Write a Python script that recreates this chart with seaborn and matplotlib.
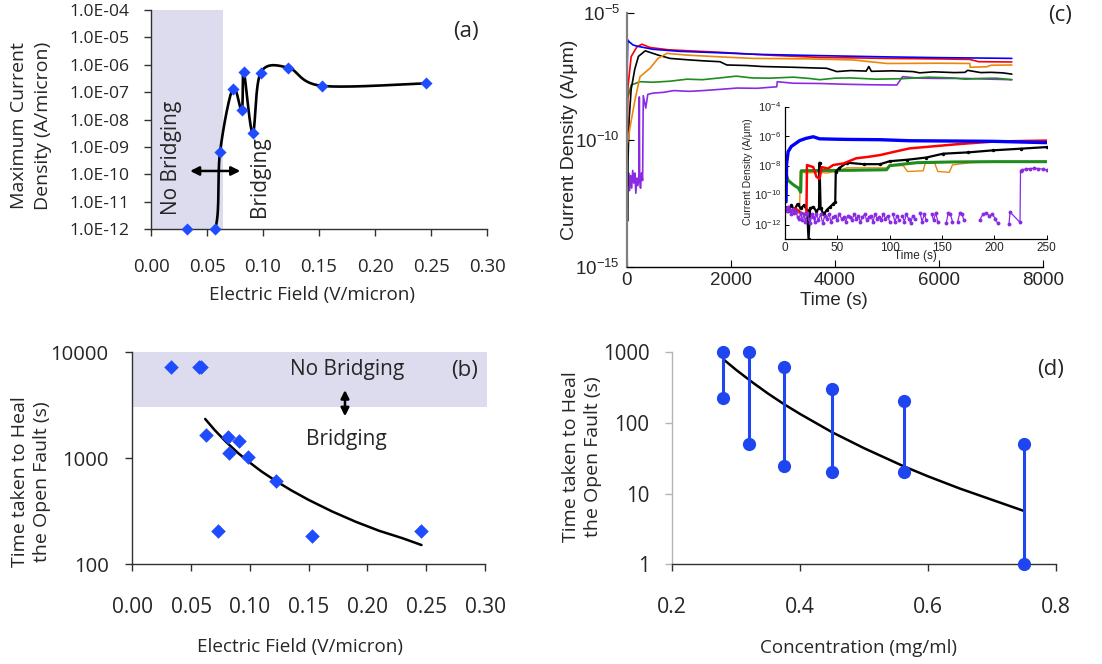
import numpy as np
import pandas as pd
import matplotlib
matplotlib.use("Agg")
import matplotlib.pyplot as plt
import seaborn as sns

# ── Style ─────────────────────────────────────────────────
sns.set_theme(style="ticks")
plt.rcParams["font.family"] = ["Open Sans", "DejaVu Sans"]
plt.rcParams["mathtext.fontset"] = "custom"
plt.rcParams["mathtext.rm"] = "Liberation Sans"
plt.rcParams["mathtext.it"] = "Liberation Sans:italic"
plt.rcParams["mathtext.bf"] = "Liberation Sans:bold"
HELV = ["Liberation Sans", "DejaVu Sans"]
MARK_BLUE = "#1f4cff"
BAND = "#dcdcee"
W, H = 1102, 664

# ── Data: (a) max current density vs field ───────────────
field_a = [0.032, 0.057, 0.0616, 0.073, 0.081, 0.0828, 0.0908, 0.098, 0.1226, 0.1524, 0.2458]
jmax_a = [1.0e-12, 1.0e-12, 6.3e-10, 1.35e-7, 2.2e-8, 5.5e-7, 3.2e-9, 5.2e-7, 7.8e-7, 1.7e-7, 2.1e-7]
a_xticks = [0.00, 0.05, 0.10, 0.15, 0.20, 0.25, 0.30]
a_xlabels = ["0.00", "0.05", "0.10", "0.15", "0.20", "0.25", "0.30"]
a_yexp = [-12, -11, -10, -9, -8, -7, -6, -5, -4]
a_ylabels = ["1.0E-12", "1.0E-11", "1.0E-10", "1.0E-09", "1.0E-08",
             "1.0E-07", "1.0E-06", "1.0E-05", "1.0E-04"]

# ── Data: (b) heal time vs field ──────────────────────────
field_b = [0.0327, 0.0567, 0.0585, 0.0624, 0.0731, 0.0811, 0.0825, 0.091, 0.098, 0.122, 0.1526, 0.2458]
heal_b = [7200, 7200, 7200, 1650, 208, 1580, 1115, 1445, 1030, 617, 184, 208]
trend_b_x = [0.062, 0.07, 0.08, 0.09, 0.10, 0.11, 0.122, 0.135, 0.15, 0.17, 0.19, 0.21, 0.23, 0.246]
trend_b_y = [2350, 1850, 1420, 1120, 910, 750, 612, 500, 405, 315, 252, 207, 176, 152]
b_yticks = [100, 1000, 10000]
b_ylabels = ["100", "1000", "10000"]

# ── Data: (d) heal time vs concentration ──────────────────
conc_d = [0.28, 0.32, 0.375, 0.45, 0.5625, 0.75]
heal_hi_d = [1000, 1000, 627, 303, 207, 50]
heal_lo_d = [223, 51, 25, 20, 20, 1]
trend_d_x = [0.28, 0.30, 0.325, 0.35, 0.375, 0.40, 0.45, 0.50, 0.5625, 0.60, 0.65, 0.70, 0.75]
trend_d_y = [795, 563, 378, 260, 184, 134, 74, 44, 24.3, 17.6, 11.8, 8.2, 5.7]
d_xticks = [0.2, 0.4, 0.6, 0.8]
d_xlabels = ["0.2", "0.4", "0.6", "0.8"]
d_yticks = [1, 10, 100, 1000]
d_ylabels = ["1", "10", "100", "1000"]

# ── Data: (c) current transients, log10(A/um) ─────────────
run_colors = {"purple": "#8a2be2", "green": "#1e8c1e", "black": "#000000",
              "orange": "#e8880c", "red": "#ff0000", "blue": "#0000ff"}
main_t = {
    "blue": [0, 5, 15, 40, 115, 200, 500, 1000, 1800, 2500, 3700, 5000, 6000, 7000, 7400],
    "red": [0, 19, 80, 192, 288, 442, 800, 1800, 2800, 3700, 5000, 6000, 6590, 6765, 7400],
    "black": [0, 10, 20, 40, 80, 150, 220, 350, 600, 826, 1200, 1500, 1787, 1920, 2300, 2600,
              3200, 3500, 3840, 4035, 4300, 4600, 4650, 4700, 5100, 5500, 5630, 5900, 6300,
              6500, 6550, 6800, 7000, 7225, 7400],
    "orange": [0, 58, 154, 250, 442, 596, 770, 1153, 1800, 2420, 3500, 4343, 4997, 6000,
               6592, 6600, 6920, 7000, 7400],
    "green": [0, 20, 80, 250, 500, 826, 1153, 1450, 1787, 2100, 2400, 2740, 3200, 3500, 3710,
              4000, 4300, 4800, 5300, 5800, 6272, 6500, 6800, 7100, 7400],
    "purple": [0, 15, 30, 50, 70, 90, 110, 130, 150, 170, 190, 210, 230, 237, 244, 260, 280,
               300, 313, 360, 400, 500, 700, 900, 1200, 1460, 1800, 2113, 2500, 2880, 2890,
               3200, 3710, 4200, 4700, 5190, 5300, 5600, 6000, 6500, 7000, 7400],
}
main_e = {
    "blue": [-10.3, -7.0, -6.05, -6.12, -6.25, -6.3, -6.42, -6.5, -6.56, -6.62, -6.67, -6.72,
             -6.75, -6.77, -6.78],
    "red": [-10.5, -7.9, -6.71, -6.32, -6.22, -6.35, -6.44, -6.54, -6.66, -6.74, -6.78, -6.8,
            -6.82, -6.91, -6.92],
    "black": [-10.6, -13.2, -10.8, -9.2, -8.0, -7.2, -6.7, -6.48, -6.65, -6.78, -6.84, -6.88,
              -6.91, -7.04, -7.06, -7.1, -7.13, -7.15, -7.17, -7.3, -7.26, -7.28, -7.1, -7.29,
              -7.27, -7.3, -7.35, -7.31, -7.34, -7.33, -7.25, -7.34, -7.33, -7.35, -7.4],
    "orange": [-10.2, -9.5, -8.42, -7.5, -7.17, -6.78, -6.58, -6.65, -6.72, -6.78, -6.8, -6.84,
               -6.98, -6.97, -6.98, -7.13, -7.11, -7.05, -7.04],
    "green": [-8.3, -8.3, -7.83, -7.7, -7.72, -7.68, -7.6, -7.62, -7.55, -7.48, -7.55, -7.56,
              -7.52, -7.57, -7.62, -7.56, -7.55, -7.6, -7.58, -7.52, -7.55, -7.6, -7.57,
              -7.56, -7.62],
    "purple": [-11.2, -11.8, -11.3, -12.0, -11.4, -11.9, -11.2, -11.7, -11.3, -12.1, -11.5,
               -11.8, -11.4, -8.3, -11.6, -11.9, -11.3, -11.6, -8.25, -8.74, -8.2, -8.15,
               -8.12, -8.05, -8.08, -8.05, -8.0, -7.95, -7.96, -7.9, -7.7, -7.76, -7.77,
               -7.8, -7.82, -7.83, -7.5, -7.56, -7.57, -7.57, -7.6, -7.62],
}
c_xticks = [0, 2000, 4000, 6000, 8000]
c_xlabels = ["0", "2000", "4000", "6000", "8000"]
c_yexp = [-15, -10, -5]

# inset (first 250 s)
ins_t = {
    "blue": [1, 1.5, 3, 6, 10, 14, 20, 27, 33, 45, 59, 91, 119, 160, 199, 250],
    "red": [0, 5, 10, 15, 19, 20.5, 21, 27, 30, 33, 35, 41, 46, 56, 68, 80, 91, 105, 119, 140,
            167, 199, 225, 250],
    "black": [0, 3, 6, 9, 12, 15, 18, 21, 22.5, 24, 27, 30, 32.5, 33, 34, 37, 40, 43, 46, 48,
              48.5, 52, 59, 75, 91, 100, 117, 135, 151, 175, 199, 225, 250],
    "orange": [0, 5, 10, 14, 14.5, 20, 30, 40, 49, 59, 97, 100, 113, 117, 132, 134, 143, 146,
               157, 160, 177, 199, 225, 250],
    "green": [0, 3, 8, 12.7, 15, 15.5, 30, 60, 97, 100, 126, 160, 200, 250],
}
ins_e = {
    "blue": [-10.45, -7.9, -7.05, -6.7, -6.5, -6.3, -6.15, -6.04, -6.18, -6.2, -6.22, -6.24,
             -6.31, -6.33, -6.35, -6.44],
    "red": [-11.0, -11.1, -10.9, -11.2, -11.3, -11.2, -7.96, -8.1, -8.75, -8.9, -8.1, -8.2,
            -7.96, -7.85, -7.5, -7.4, -7.28, -7.05, -6.83, -6.7, -6.53, -6.37, -6.33, -6.3],
    "black": [-10.8, -11.1, -10.7, -11.0, -10.6, -10.9, -10.7, -11.0, -13.0, -10.9, -10.8,
              -11.1, -10.9, -7.8, -10.9, -11.3, -11.0, -10.8, -10.6, -10.45, -8.4, -8.16,
              -7.8, -7.9, -7.9, -7.7, -7.6, -7.45, -7.19, -7.1, -6.96, -6.85, -6.74],
    "orange": [-11.2, -11.1, -11.3, -11.2, -8.4, -8.5, -8.45, -8.5, -8.4, -8.15, -8.15, -8.0,
               -8.0, -8.4, -8.35, -7.84, -7.84, -8.4, -8.45, -7.95, -7.8, -7.75, -7.75, -7.76],
    "green": [-8.3, -9.0, -9.3, -9.52, -9.8, -8.35, -8.33, -8.32, -8.28, -8.0, -7.8, -7.75,
              -7.73, -7.73],
}
nan = np.nan
purple_in_t = [0, 1.5, 3, 4.5, 6, 7.5, 9, 10.5, 12, 13.5, 15, 16.5, 18, 19.5, 21, 22.5, 24,
               25.5, 27, 28.5, 30] + list(range(32, 101, 2)) + [
               nan, 103, 105, 107, 109, nan, 112, 114, 116, 118, 120, 122, 124,
               nan, 129, 131, 133, 135, nan, 140, 142, 144, 146, nan, 154, 156, 158, 160,
               nan, 165, 167, 169, 171, nan, 186, 189, 192, 195, 198, 201, 203,
               nan, 214, 215, 224.5, 225, 226, 230, 234, 238, 242, 246, 250]
purple_in_e = [-10.9, -11.1, -10.8, -11.0, -11.3, -10.95, -11.2, -11.1, -11.5, -11.6, -11.2,
               -11.7, -11.3, -11.8, -11.2, -11.6, -11.9, -11.3, -11.5, -11.8, -11.3,
               -11.7, -11.3, -11.9, -11.4, -11.6, -11.3, -11.8, -11.5, -11.4, -11.7, -11.3,
               -11.6, -11.5, -11.8, -11.4, -11.5, -11.7, -11.3, -11.6, -11.4, -11.8, -11.5,
               -11.3, -11.7, -11.5, -11.4, -11.8, -11.3, -11.6, -11.5, -11.7, -11.3, -11.6,
               -11.4, -11.8,
               nan, -11.3, -11.8, -11.4, -11.7, nan, -11.4, -11.8, -11.3, -11.6, -11.9, -11.4, -11.6,
               nan, -11.2, -11.8, -11.3, -11.7, nan, -11.3, -11.7, -11.2, -11.8, nan, -11.9, -11.2,
               -11.3, -11.8, nan, -11.8, -11.2, -11.3, -11.7, nan, -11.7, -11.3, -11.2, -11.4,
               -11.3, -11.6, -11.9, nan, -11.95, -11.15, -11.85, -8.35, -8.3, -8.22, -8.2,
               -8.18, -8.2, -8.24, -8.28]
ins_xticks = [0, 50, 100, 150, 200, 250]
ins_xlabels = ["0", "50", "100", "150", "200", "250"]
ins_yexp = [-12, -10, -8, -6, -4]


def rect(l, t, r, b):
    return [l / W, 1 - b / H, (r - l) / W, (b - t) / H]


def fpos(x, y):
    return x / W, 1 - y / H


def smooth(xs, ys_log, n=30):
    # Excel-style smoothed line: Bezier segments with Catmull-Rom controls
    P = np.column_stack([xs, ys_log]).astype(float)
    P = np.vstack([P[0], P, P[-1]])
    s = np.linspace(0, 1, n)[:, None]
    out = []
    for i in range(1, len(P) - 2):
        p0, p1, p2, p3 = P[i - 1], P[i], P[i + 1], P[i + 2]
        c1 = p1 + (p2 - p0) / 6
        c2 = p2 - (p3 - p1) / 6
        seg = (1 - s) ** 3 * p1 + 3 * (1 - s) ** 2 * s * c1 + 3 * (1 - s) * s ** 2 * c2 + s ** 3 * p2
        out.append(seg if i == 1 else seg[1:])
    return np.vstack(out)


def excel_axes(ax, left_color="#303030"):
    sns.despine(ax=ax)
    ax.spines["left"].set_color(left_color)
    ax.spines["bottom"].set_color("#303030")
    ax.spines["left"].set_linewidth(1.0)
    ax.spines["bottom"].set_linewidth(1.0)
    ax.tick_params(direction="out", length=5, width=1.0, color="#303030")
    ax.yaxis.set_minor_locator(matplotlib.ticker.NullLocator())
    ax.set_facecolor("none")


fig = plt.figure(figsize=(W / 100, H / 100), dpi=100)

# ── Panel (a) ─────────────────────────────────────────────
ax_a = fig.add_axes(rect(151, 10, 487, 229))
ax_a.set_yscale("log")
ax_a.axvspan(0, 0.0643, color=BAND, lw=0, zorder=0)
sm = smooth(field_a, np.log10(jmax_a))
sns.lineplot(x=sm[:, 0], y=10 ** sm[:, 1], sort=False, estimator=None, color="black",
             lw=1.9, ax=ax_a, zorder=2)
sns.scatterplot(x=field_a, y=jmax_a, marker="D", s=38, color=MARK_BLUE, edgecolor=MARK_BLUE,
                linewidth=0, zorder=3, clip_on=False, ax=ax_a)
ax_a.set_xlim(0, 0.30)
ax_a.set_ylim(1e-12, 1e-4)
excel_axes(ax_a)
ax_a.set_xticks(a_xticks, a_xlabels, fontsize=13.4)
ax_a.set_yticks([10.0 ** k for k in a_yexp], a_ylabels, fontsize=12.6)
ax_a.tick_params(axis="x", pad=16)
ax_a.tick_params(axis="y", pad=10.5)
ax_a.set_xlabel("")
ax_a.set_ylabel("")
ax_a.annotate("", xy=(0.108, 0.265), xytext=(0.274, 0.265), xycoords="axes fraction",
              arrowprops=dict(arrowstyle="<|-|>", color="black", lw=1.8, mutation_scale=13))
fig.text(*fpos(171, 158), "No Bridging", rotation=90, ha="center", va="center", fontsize=15)
fig.text(*fpos(259, 177), "Bridging", rotation=90, ha="center", va="center", fontsize=15)
fig.text(*fpos(466, 32), "(a)", ha="center", va="center", fontsize=16)
fig.text(*fpos(31, 126), "Maximum Current\nDensity (A/micron)", rotation=90, ha="center",
         va="center", fontsize=14, linespacing=1.4)
fig.text(*fpos(312, 295), "Electric Field (V/micron)", ha="center", va="center", fontsize=13.6)

# ── Panel (b) ─────────────────────────────────────────────
ax_b = fig.add_axes(rect(132.3, 352.3, 485, 564.3))
ax_b.set_yscale("log")
ax_b.fill_between([0, 0.302], 3070, 10000, color=BAND, lw=0, zorder=0, clip_on=False)
sns.lineplot(x=trend_b_x, y=trend_b_y, color="black", lw=1.8, estimator=None, ax=ax_b, zorder=2)
sns.scatterplot(x=field_b, y=heal_b, marker="D", s=55, color=MARK_BLUE, edgecolor=MARK_BLUE,
                linewidth=0, zorder=3, clip_on=False, ax=ax_b)
ax_b.set_xlim(0, 0.30)
ax_b.set_ylim(100, 10000)
excel_axes(ax_b)
ax_b.set_xticks(a_xticks, a_xlabels, fontsize=15)
ax_b.set_yticks(b_yticks, b_ylabels, fontsize=14.6)
ax_b.tick_params(axis="x", pad=18.5)
ax_b.tick_params(axis="y", pad=12)
ax_b.set_xlabel("")
ax_b.set_ylabel("")
ax_b.annotate("", xy=(0.603, 0.685), xytext=(0.603, 0.835), xycoords="axes fraction",
              arrowprops=dict(arrowstyle="<|-|>", color="black", lw=1.8, mutation_scale=12))
fig.text(*fpos(346.7, 369.3), "No Bridging", ha="center", va="center", fontsize=15)
fig.text(*fpos(346.7, 440), "Bridging", ha="center", va="center", fontsize=15)
fig.text(*fpos(465, 371), "(b)", ha="center", va="center", fontsize=16)
fig.text(*fpos(31, 482), "Time taken to Heal\nthe Open Fault (s)", rotation=90, ha="center",
         va="center", fontsize=14, linespacing=1.3)
fig.text(*fpos(300, 647), "Electric Field (V/micron)", ha="center", va="center", fontsize=13.6)

# ── Panel (d) ─────────────────────────────────────────────
ax_d = fig.add_axes(rect(672.3, 352.3, 1055.7, 564.3))
ax_d.set_yscale("log")
df_d = pd.DataFrame({
    "conc": conc_d + conc_d,
    "heal": heal_hi_d + heal_lo_d,
    "pair": list(range(len(conc_d))) * 2,
})
sns.lineplot(x=trend_d_x, y=trend_d_y, color="black", lw=1.8, estimator=None, ax=ax_d, zorder=2)
sns.lineplot(data=df_d, x="conc", y="heal", units="pair", estimator=None, color="#1f45f0",
             lw=2.2, marker="o", markersize=9.5, markeredgewidth=0, clip_on=False,
             zorder=3, ax=ax_d)
ax_d.set_xlim(0.2, 0.8)
ax_d.set_ylim(1, 1000)
excel_axes(ax_d, left_color="#b4b4b4")
ax_d.tick_params(axis="y", color="#b4b4b4")
ax_d.set_xticks(d_xticks, d_xlabels, fontsize=15.3)
ax_d.set_yticks(d_yticks, d_ylabels, fontsize=14.8)
ax_d.tick_params(axis="x", pad=18.5)
ax_d.tick_params(axis="y", pad=11.5)
ax_d.set_xlabel("")
ax_d.set_ylabel("")
fig.text(*fpos(1051, 369), "(d)", ha="center", va="center", fontsize=16)
fig.text(*fpos(582, 457), "Time taken to Heal\nthe Open Fault (s)", rotation=90, ha="center",
         va="center", fontsize=14, linespacing=1.3)
fig.text(*fpos(859, 648), "Concentration (mg/ml)", ha="center", va="center", fontsize=13.5)

# ── Panel (c) ─────────────────────────────────────────────
ax_c = fig.add_axes(rect(627, 13.3, 1043, 266.7))
ax_c.set_yscale("log")
order = ["purple", "green", "black", "orange", "red", "blue"]
df_c = pd.concat([pd.DataFrame({"t": main_t[k], "J": 10.0 ** np.array(main_e[k]), "run": k})
                  for k in order], ignore_index=True)
sns.lineplot(data=df_c, x="t", y="J", hue="run", hue_order=order, palette=run_colors,
             estimator=None, sort=False, lw=1.2, legend=False, ax=ax_c)
ax_c.set_xlim(0, 8000)
ax_c.set_ylim(1e-15, 1e-5)
sns.despine(ax=ax_c)
ax_c.spines["left"].set_color("#808080")
ax_c.spines["left"].set_linewidth(1.6)
ax_c.spines["bottom"].set_color("black")
ax_c.spines["bottom"].set_linewidth(1.0)
ax_c.yaxis.set_minor_locator(matplotlib.ticker.NullLocator())
ax_c.tick_params(direction="in", length=5, width=0.8, color="black")
ax_c.set_xticks(c_xticks, c_xlabels, fontsize=13.5, fontfamily=HELV)
ax_c.set_yticks([10.0 ** k for k in c_yexp], [rf"$10^{{{k}}}$" for k in c_yexp], fontsize=13.5)
ax_c.tick_params(axis="x", pad=4)
ax_c.tick_params(axis="y", pad=5)
ax_c.set_xlabel("")
ax_c.set_ylabel("")
ax_c.set_facecolor("none")
fig.text(*fpos(569, 140), "Current Density (A/\u03bcm)", rotation=90, ha="center",
         va="center", fontsize=14, fontfamily=HELV)
fig.text(*fpos(834, 300), "Time (s)", ha="center", va="center", fontsize=13.5,
         fontfamily=HELV)
fig.text(*fpos(1060, 16), "(c)", ha="center", va="center", fontsize=16)

# inset
ax_in = fig.add_axes(rect(785, 106.7, 1046.7, 239.3))
ax_in.set_yscale("log")
ins_order = ["orange", "green", "black", "red", "blue"]
ins_lw = {"orange": 1.0, "green": 2.2, "black": 1.6, "red": 1.8, "blue": 2.4}
for k in ins_order:
    sns.lineplot(x=ins_t[k], y=10.0 ** np.array(ins_e[k]), color=run_colors[k],
                 estimator=None, sort=False, lw=ins_lw[k], ax=ax_in,
                 marker="o" if k == "black" else None, markersize=2.5, markeredgewidth=0)
pe = np.array(purple_in_e, dtype=float)
df_p = pd.DataFrame({"t": purple_in_t, "e": pe, "seg": np.cumsum(np.isnan(pe))}).dropna()
df_p["J"] = 10.0 ** df_p["e"]
sns.lineplot(data=df_p, x="t", y="J", units="seg", estimator=None, sort=False,
             color=run_colors["purple"], lw=0.9, marker="o", markersize=2.8,
             markeredgewidth=0, ax=ax_in)
ax_in.set_xlim(0, 250)
ax_in.set_ylim(1e-13, 1e-4)
sns.despine(ax=ax_in)
for sp in ("left", "bottom"):
    ax_in.spines[sp].set_color("black")
    ax_in.spines[sp].set_linewidth(0.9)
ax_in.yaxis.set_minor_locator(matplotlib.ticker.NullLocator())
ax_in.tick_params(direction="in", length=3, width=0.7, color="black")
ax_in.set_xticks(ins_xticks, ins_xlabels, fontsize=8.5, fontfamily=HELV)
ax_in.set_yticks([10.0 ** k for k in ins_yexp], [rf"$10^{{{k}}}$" for k in ins_yexp],
                 fontsize=8)
ax_in.tick_params(axis="x", pad=2)
ax_in.tick_params(axis="y", pad=3)
ax_in.set_xlabel("")
ax_in.set_ylabel("")
ax_in.set_facecolor("white")
ax_in.set_zorder(5)
fig.text(*fpos(915, 256.5), "Time (s)", ha="center", va="center", fontsize=8.5,
         fontfamily=HELV, zorder=6)
fig.text(*fpos(748, 172), "Current Density (A/\u03bcm)", rotation=90, ha="center",
         va="center", fontsize=7.5, fontfamily=HELV, zorder=6)

fig.savefig("out.png", dpi=100)
